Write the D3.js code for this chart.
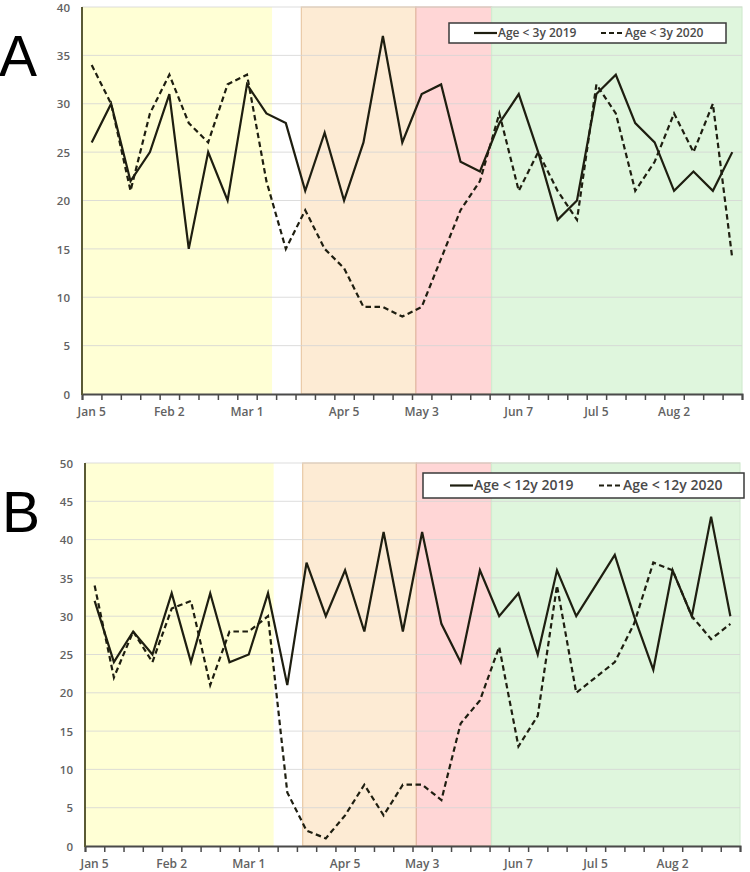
<!DOCTYPE html>
<html>
<head>
<meta charset="utf-8">
<script src="https://cdn.jsdelivr.net/npm/d3@7"></script>
<style>
  html, body { margin: 0; padding: 0; background: #ffffff; }
  svg { display: block; }
</style>
</head>
<body>
<svg id="chart" width="750" height="872"></svg>
<script>
// ---------- DATA ----------
const weeks = ["Jan 5","Jan 12","Jan 19","Jan 26","Feb 2","Feb 9","Feb 16","Feb 23",
  "Mar 1","Mar 8","Mar 15","Mar 22","Mar 29","Apr 5","Apr 12","Apr 19","Apr 26",
  "May 3","May 10","May 17","May 24","May 31","Jun 7","Jun 14","Jun 21","Jun 28",
  "Jul 5","Jul 12","Jul 19","Jul 26","Aug 2","Aug 9","Aug 16","Aug 23"];
const tickLabels = ["Jan 5","Feb 2","Mar 1","Apr 5","May 3","Jun 7","Jul 5","Aug 2"];

const under3y2019 = [26,30,22,25,31,15,25,20,32,29,28,21,27,20,26,37,26,31,32,24,23,28,31,25,18,20,31,33,28,26,21,23,21,25];
const under3y2020 = [34,30,21,29,33,28,26,32,33,22,15,19,15,13,9,9,8,9,14,19,22,29,21,25,21,18,32,29,21,24,29,25,30,14];

const under12y2019 = [32,24,28,25,33,24,33,24,25,33,21,37,30,36,28,41,28,41,29,24,36,30,33,25,36,30,34,38,30,23,36,30,43,30];
const under12y2020 = [34,22,28,24,31,32,21,28,28,30,7,2,1,4,8,4,8,8,6,16,19,26,13,17,34,20,22,24,29,37,36,30,27,29];

// shaded periods, in week units along the x axis
const phaseNames  = ["pre", "gap", "lockdown", "partial", "reopen"];
const phaseStart  = [0,    9.8,  11.3, 17.2, 21.1];
const phaseEnd    = [9.8,  11.3, 17.2, 21.1, 34];

const yTicksA = [0,5,10,15,20,25,30,35,40];
const yTicksB = [0,5,10,15,20,25,30,35,40,45,50];

// ---------- STYLE ----------
const phaseFill   = {pre:"#ffffd5", gap:"#ffffff", lockdown:"#fdebd4", partial:"#ffd6d6", reopen:"#dff6dd"};
const phaseStroke = {pre:"none", gap:"none", lockdown:"#e9c9a6", partial:"#e2b7a4", reopen:"#d2ebd0"};
const lineColor = "#1e1e10";
const labelFont = "'Open Sans', 'DejaVu Sans', sans-serif";

const svg = d3.select("#chart");

function drawPanel(cfg) {
  const g = svg.append("g");
  const x = d3.scaleLinear().domain([0, weeks.length]).range([cfg.left, cfg.right]);
  const y = d3.scaleLinear().domain([0, cfg.yMax]).range([cfg.bottom, cfg.top]);

  // phases
  const phases = phaseNames.map((n, i) => ({name: n, s: phaseStart[i], e: phaseEnd[i]}));
  g.selectAll("rect.phase").data(phases).enter().append("rect")
    .attr("x", d => x(d.s)).attr("y", y(cfg.yMax))
    .attr("width", d => x(d.e) - x(d.s))
    .attr("height", y(0) - y(cfg.yMax))
    .attr("fill", d => phaseFill[d.name])
    .attr("stroke", d => phaseStroke[d.name])
    .attr("stroke-width", 1.2);

  // gridlines
  g.selectAll("line.grid").data(cfg.yTicks.filter(v => v > 0)).enter().append("line")
    .attr("x1", cfg.left).attr("x2", cfg.right)
    .attr("y1", d => y(d)).attr("y2", d => y(d))
    .attr("stroke", "#d4d4d4").attr("stroke-opacity", 0.8).attr("stroke-width", 1);

  // y axis labels
  const yAxis = d3.axisLeft(y).tickValues(cfg.yTicks).tickSize(0).tickPadding(12);
  const ya = g.append("g").attr("transform", `translate(${cfg.left},0)`).call(yAxis);
  ya.select(".domain").remove();
  ya.selectAll("text").attr("font-family", labelFont).attr("font-size", 11.5)
    .attr("font-weight", 600).attr("fill", "#626262").attr("dy", "0.36em");

  // x axis: ticks on week boundaries
  const xAxis = d3.axisBottom(x).tickValues(d3.range(0, weeks.length + 1)).tickSize(6).tickFormat("");
  const xa = g.append("g").attr("transform", `translate(0,${cfg.bottom})`).call(xAxis);
  xa.select(".domain").attr("stroke", "#4a4a4a").attr("stroke-width", 2);
  xa.selectAll(".tick line").attr("stroke", "#4a4a4a").attr("stroke-width", 1.5);

  // x labels at week centers
  g.selectAll("text.xl").data(tickLabels).enter().append("text")
    .attr("x", d => x(weeks.indexOf(d) + 0.5))
    .attr("y", cfg.bottom + cfg.labelDy)
    .attr("text-anchor", "middle")
    .attr("font-family", labelFont).attr("font-size", 12).attr("font-weight", 600)
    .attr("fill", "#626262").text(d => d);

  // left axis line
  g.append("line").attr("x1", cfg.left).attr("x2", cfg.left)
    .attr("y1", cfg.top).attr("y2", cfg.bottom + 1)
    .attr("stroke", "#5a5a34").attr("stroke-width", 2);

  // series lines
  const line = d3.line().x((d, i) => x(i + 0.5)).y(d => y(d));
  g.append("path").datum(cfg.s2019).attr("d", line).attr("fill", "none")
    .attr("stroke", lineColor).attr("stroke-width", 2.2).attr("stroke-linejoin", "miter");
  g.append("path").datum(cfg.s2020).attr("d", line).attr("fill", "none")
    .attr("stroke", lineColor).attr("stroke-width", 2.2).attr("stroke-dasharray", "5.5,3.5");

  // legend
  const L = cfg.legend;
  g.append("rect").attr("x", L.x).attr("y", L.y).attr("width", L.w).attr("height", L.h)
    .attr("fill", "#ffffff").attr("stroke", "#3a3a3a").attr("stroke-width", 1.5);
  const ly = L.y + L.h / 2;
  g.append("line").attr("x1", L.s1).attr("x2", L.s1 + L.sw).attr("y1", ly).attr("y2", ly)
    .attr("stroke", lineColor).attr("stroke-width", 2.2);
  g.append("text").attr("x", L.s1 + L.sw + 1).attr("y", ly).attr("dy", "0.35em")
    .attr("font-family", labelFont).attr("font-size", L.fs).attr("font-weight", 600)
    .attr("fill", "#4a4a4a").text(cfg.names[0]);
  g.append("line").attr("x1", L.s2).attr("x2", L.s2 + L.sw).attr("y1", ly).attr("y2", ly)
    .attr("stroke", lineColor).attr("stroke-width", 2.2).attr("stroke-dasharray", "5,3");
  g.append("text").attr("x", L.s2 + L.sw + 1).attr("y", ly).attr("dy", "0.35em")
    .attr("font-family", labelFont).attr("font-size", L.fs).attr("font-weight", 600)
    .attr("fill", "#4a4a4a").text(cfg.names[1]);

  // panel letter
  g.append("text").attr("x", cfg.letterX).attr("y", cfg.letterY)
    .attr("font-family", "'Liberation Sans', Arial, sans-serif").attr("font-size", 57)
    .attr("fill", "#000").text(cfg.letter);
}

drawPanel({
  left: 82, right: 742, top: 7, bottom: 394, yMax: 40, yTicks: yTicksA, labelDy: 22,
  s2019: under3y2019, s2020: under3y2020,
  names: ["Age < 3y 2019", "Age < 3y 2020"],
  legend: {x: 449, y: 23, w: 277, h: 20, s1: 474, s2: 601, sw: 23, fs: 12},
  letter: "A", letterX: -1, letterY: 76
});

drawPanel({
  left: 85, right: 740, top: 463, bottom: 846, yMax: 50, yTicks: yTicksB, labelDy: 22,
  s2019: under12y2019, s2020: under12y2020,
  names: ["Age < 12y 2019", "Age < 12y 2020"],
  legend: {x: 423, y: 473, w: 321, h: 25, s1: 450, s2: 599, sw: 23, fs: 14},
  letter: "B", letterX: 2, letterY: 532
});
</script>
</body>
</html>
